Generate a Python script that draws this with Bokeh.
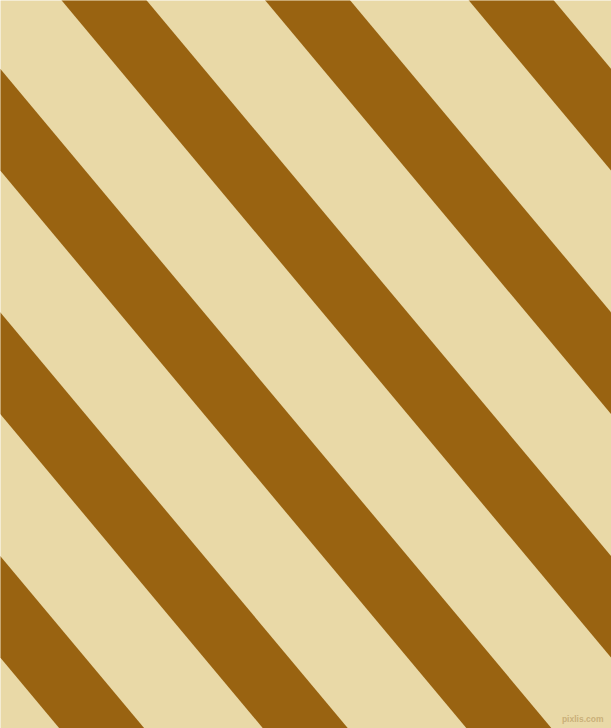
from bokeh.plotting import figure
from bokeh.embed import file_html
from bokeh.resources import INLINE
from bokeh.models import Range1d
from bokeh.core.properties import value

# stripe data (image coordinates, y downward): u = x - slope*y
stripe_offsets = [-549.6, -346.0, -142.4, 61.2, 264.8, 468.4]
stripe_width = 85.0
slope = 0.836
img_w, img_h = 611, 728
bg_color = "#E9D9A7"
stripe_color = "#996311"
watermark = "pixlis.com"

W, H = 611, 728
p = figure(width=W, height=H, output_backend="svg", toolbar_location=None,
           x_range=Range1d(0, img_w), y_range=Range1d(img_h, 0),
           min_border=0, min_border_left=0, min_border_right=0,
           min_border_top=0, min_border_bottom=0)
p.axis.visible = False
p.grid.visible = False
p.outline_line_color = None
p.background_fill_color = bg_color
p.border_fill_color = bg_color

y0, y1 = -100, img_h + 100
xs, ys = [], []
for u in stripe_offsets:
    xs.append([u + slope * y0, u + stripe_width + slope * y0,
               u + stripe_width + slope * y1, u + slope * y1])
    ys.append([y0, y0, y1, y1])
p.patches(xs, ys, fill_color=stripe_color, line_color=None)

p.text(x=[603], y=[723], text=[watermark], text_align="right",
       text_baseline="bottom", text_font=value("Liberation Sans"),
       text_font_size="8.5px", text_font_style="bold",
       text_color="#C9B07A")

open("out.html", "w").write(file_html(p, INLINE))
